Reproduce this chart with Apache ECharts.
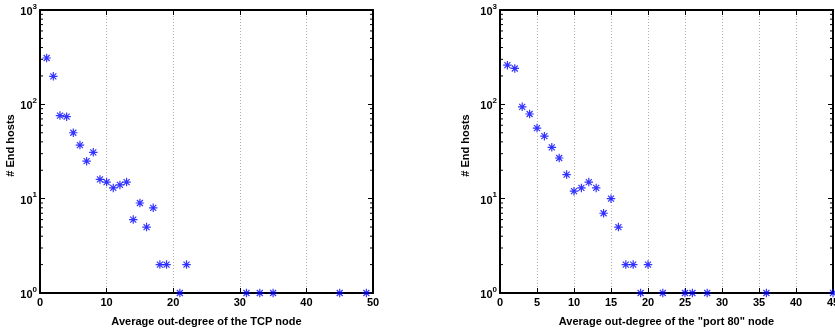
<!DOCTYPE html>
<html><head><meta charset="utf-8">
<script src="https://cdn.jsdelivr.net/npm/echarts@6/dist/echarts.min.js"></script>
<style>html,body{margin:0;padding:0;background:#fff}#c{width:835px;height:332px}</style>
</head><body><div id="c"></div>
<script>
var tcpX = [1,2,3,4,5,6,7,8,9,10,11,12,13,14,15,16,17,18,19,21,22,31,33,35,45,49];
var tcpY = [310,198,76,74,50,37,25,31,16,15,13,14,15,6,9,5,8,2,2,1,2,1,1,1,1,1];
var portX = [1,2,3,4,5,6,7,8,9,10,11,12,13,14,15,16,17,18,19,20,22,25,26,28,36,45];
var portY = [260,240,94,79,56,46,35,27,18,12,13,15,13,7,10,5,2,2,1,2,1,1,1,1,1,1];
var xTitleLeft = 'Average out-degree of the TCP node';
var xTitleRight = 'Average out-degree of the "port 80" node';
var yTitle = '# End hosts';
var minorTickValues = [2,3,4,5,6,7,8,9,20,30,40,50,60,70,80,90,200,300,400,500,600,700,800,900];

var FONT = '"Liberation Sans", Arial, Helvetica, sans-serif';
var STAR = 'path://M-1.4,-10L1.4,-10L1.4,10L-1.4,10Z M-10,-1.4L10,-1.4L10,1.4L-10,1.4Z M-6.08,-8.06L8.06,6.08L6.08,8.06L-8.06,-6.08Z M-8.06,6.08L6.08,-8.06L8.06,-6.08L-6.08,8.06Z';

function zip(a,b){ return a.map(function(v,i){ return [v,b[i]]; }); }

function yLabel(v){
  var e = Math.round(Math.log(v)/Math.LN10);
  return '{b|10}{s|' + e + '}';
}
var yRich = {
  b: {fontSize: 11, fontWeight: 'bold', fontFamily: FONT, color: '#000', lineHeight: 15, verticalAlign: 'bottom'},
  s: {fontSize: 8, fontWeight: 'bold', fontFamily: FONT, color: '#000', lineHeight: 15, verticalAlign: 'top'}
};
var axisLine = {show: true, onZero: false, lineStyle: {color: '#000', width: 2}};
var tick = {show: true, inside: true, length: 5, lineStyle: {color: '#000', width: 1}};

function xAxes(gridIndex, max, interval, title){
  return [{
    type: 'value', gridIndex: gridIndex, min: 0, max: max, interval: interval, position: 'bottom',
    axisLine: axisLine, axisTick: tick,
    axisLabel: {show: true, margin: 4, fontSize: 11, fontWeight: 'bold', fontFamily: FONT, color: '#000', showMaxLabel: true, showMinLabel: true, alignMaxLabel: 'center', alignMinLabel: 'center', hideOverlap: false},
    splitLine: {show: true, lineStyle: {color: '#b0b0b0', type: [1,2], width: 1}},
    name: title, nameLocation: 'middle', nameGap: 23,
    nameTextStyle: {fontSize: 11, fontWeight: 'bold', fontFamily: FONT, color: '#000'}
  },{
    type: 'value', gridIndex: gridIndex, min: 0, max: max, interval: interval, position: 'top',
    axisLine: axisLine, axisTick: tick, axisLabel: {show: false}, splitLine: {show: false}
  }];
}
function yAxes(gridIndex, gap){
  return [{
    type: 'log', logBase: 10, gridIndex: gridIndex, min: 1, max: 1000, position: 'left',
    axisLine: axisLine, axisTick: tick,
    axisLabel: {show: true, margin: 3, formatter: yLabel, rich: yRich},
    splitLine: {show: false}, minorTick: {show: false},
    name: yTitle, nameLocation: 'middle', nameGap: gap, nameRotate: 90,
    nameTextStyle: {fontSize: 11, fontWeight: 'bold', fontFamily: FONT, color: '#000', padding: [0, 0, 0, 12]}
  },{
    type: 'log', logBase: 10, gridIndex: gridIndex, min: 1, max: 1000, position: 'right',
    axisLine: axisLine, axisTick: tick, axisLabel: {show: false}, splitLine: {show: false}
  }];
}

function minorSeries(xi, yi){
  return {
    type: 'custom', xAxisIndex: xi, yAxisIndex: yi, z: 4, silent: true, clip: false,
    data: minorTickValues.map(function(v){ return [0, v]; }),
    renderItem: function(params, api){
      var cs = params.coordSys;
      var y = api.coord([0, api.value(1)])[1];
      var st = {stroke: '#000', lineWidth: 1};
      return {type: 'group', children: [
        {type: 'line', shape: {x1: cs.x, y1: y, x2: cs.x + 3, y2: y}, style: st},
        {type: 'line', shape: {x1: cs.x + cs.width, y1: y, x2: cs.x + cs.width - 3, y2: y}, style: st}
      ]};
    }
  };
}

function scatter(xi, yi, data){
  return {
    type: 'scatter', xAxisIndex: xi, yAxisIndex: yi, data: data, z: 5, clip: false,
    symbol: STAR, symbolSize: 8.5, itemStyle: {color: '#0000ff'}, silent: true
  };
}

var chart = echarts.init(document.getElementById('c'), null, {renderer: 'canvas'});
chart.setOption({
  animation: false,
  backgroundColor: '#fff',
  grid: [
    {left: 40, right: 462, top: 10, bottom: 39, containLabel: false, outerBoundsMode: 'none'},
    {left: 500, right: 2, top: 10, bottom: 39, containLabel: false, outerBoundsMode: 'none'}
  ],
  xAxis: xAxes(0, 50, 10, xTitleLeft).concat(xAxes(1, 45, 5, xTitleRight)),
  yAxis: yAxes(0, 22).concat(yAxes(1, 29)),
  series: [
    minorSeries(0, 0),
    minorSeries(2, 2),
    scatter(0, 0, zip(tcpX, tcpY)),
    scatter(2, 2, zip(portX, portY))
  ]
});
</script>
</body></html>
